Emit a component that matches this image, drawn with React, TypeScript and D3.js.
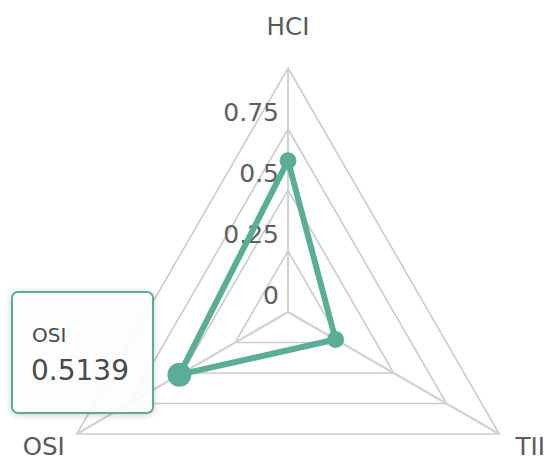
import React from "react";
import * as d3 from "d3";

const axes = ["HCI", "TII", "OSI"];
const values = [0.62, 0.225, 0.5139];
const ticks = [0, 0.25, 0.5, 0.75];
const levels = [0.25, 0.5, 0.75, 1];
const hovered = "OSI";

const W = 550, H = 460;
const cx = 288, cy = 312, R = 244;
const teal = "#5aae97";
const font = "'DejaVu Sans', sans-serif";

export default function App() {
  const r = d3.scaleLinear().domain([0, 1]).range([0, R]);
  const ang = d3.scalePoint<string>().domain(axes).range([0, 240]); // degrees clockwise from top
  const pt = (name: string, v: number): [number, number] => {
    const a = ((ang(name)! - 90) * Math.PI) / 180;
    return [cx + r(v) * Math.cos(a), cy + r(v) * Math.sin(a)];
  };
  const line = d3.line<[number, number]>().curve(d3.curveLinearClosed);
  const dataPts = axes.map((a, i) => pt(a, values[i]));
  const hi = axes.indexOf(hovered);

  const nameOffsets: Record<string, [number, number, string]> = {
    HCI: [0, -42, "middle"],
    TII: [31, 12.5, "middle"],
    OSI: [-33, 12.5, "middle"],
  };

  return (
    <svg width={W} height={H} style={{ position: "absolute", left: 0, top: 0 }}>
      <defs>
        <filter id="sh" x="-20%" y="-20%" width="140%" height="140%">
          <feDropShadow dx="0" dy="1" stdDeviation="3" floodColor="#000" floodOpacity="0.2" />
        </filter>
      </defs>
      <rect width={W} height={H} fill="#fff" />
      {levels.map((l) => (
        <path key={l} d={line(axes.map((a) => pt(a, l)))!} fill="none" stroke="#cccccc" strokeWidth={1.6} />
      ))}
      {axes.map((a) => {
        const [x, y] = pt(a, 1);
        return <line key={a} x1={cx} y1={cy} x2={x} y2={y} stroke="#d2d2d2" strokeWidth={2.2} />;
      })}
      {ticks.map((t) => (
        <text key={t} x={cx - 9} y={cy - r(t) - 17} textAnchor="end" dominantBaseline="central"
          fontFamily={font} fontSize={25} fill="#5f5f5f">{t}</text>
      ))}
      {axes.map((a) => {
        const [x, y] = pt(a, 1);
        const [dx, dy, anchor] = nameOffsets[a];
        return (
          <text key={a} x={x + dx} y={y + dy} textAnchor={anchor as any} dominantBaseline="central"
            fontFamily={font} fontSize={24.5} fill="#5a5a5a">{a}</text>
        );
      })}
      <path d={line(dataPts)!} fill="none" stroke={teal} strokeWidth={6} strokeLinejoin="round" />
      {dataPts.map(([x, y], i) => (
        <circle key={i} cx={x} cy={y} r={i === hi ? 12 : 8.5} fill={teal} />
      ))}
      <g>
        <rect x={12} y={292} width={141} height={121} rx={6} fill="#fff" fillOpacity={0.9}
          stroke={teal} strokeWidth={2} filter="url(#sh)" />
        <text x={32} y={342} fontFamily={font} fontSize={20} fill="#4a4a4a">{hovered}</text>
        <text x={31} y={380} fontFamily={font} fontSize={28} fill="#4a4a4a">{values[hi]}</text>
      </g>
    </svg>
  );
}
